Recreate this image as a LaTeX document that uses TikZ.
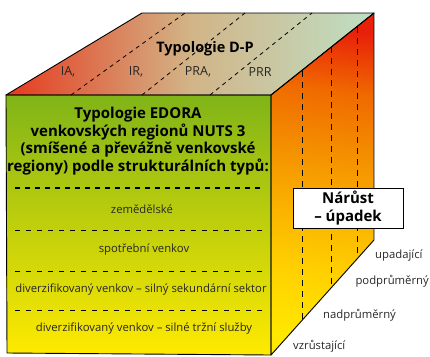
\documentclass[tikz,border=0pt]{standalone}
\usepackage{fontspec}
\setmainfont{Open Sans}
\definecolor{topred}{HTML}{E63A1E}
\definecolor{toptan}{HTML}{D2B487}
\definecolor{topgreen}{HTML}{BEDFC4}
\definecolor{frgreen}{HTML}{80B418}
\definecolor{fryellow}{HTML}{FFEA00}
\definecolor{rredA}{HTML}{E8200A}
\definecolor{rorange}{HTML}{F06A00}
\definecolor{rorangeB}{HTML}{F49000}
\definecolor{ramber}{HTML}{FAB000}
\definecolor{ryellowB}{HTML}{FFD000}
\definecolor{ryellow}{HTML}{FFE800}
\pgfdeclareverticalshading{rightface}{100bp}{color(0bp)=(ryellow); color(25bp)=(ryellow); color(36bp)=(ryellowB); color(46bp)=(ramber); color(55bp)=(rorangeB); color(65bp)=(rorange); color(75bp)=(rredA); color(100bp)=(rredA)}
\tikzset{
  edge/.style={draw=black, line width=0.9pt, line join=round},
  topdash/.style={draw=black, line width=0.8pt, dash pattern=on 4pt off 4pt},
  rdash/.style={draw=black, line width=0.9pt, dash pattern=on 6pt off 5pt},
  fdash/.style={draw=black, line width=0.7pt, dash pattern=on 5pt off 6pt},
  fdashthick/.style={draw=black, line width=1.4pt, dash pattern=on 5pt off 5pt},
  lbl/.style={font=\fontsize{11.3}{13}\selectfont, inner sep=0pt, text=black!85},
  toplbl/.style={font=\fontsize{12.5}{14}\selectfont, inner sep=0pt, text=black!85},
  bold/.style={font=\fontsize{15}{17.7}\selectfont\bfseries, align=center, inner sep=0pt},
}
\begin{document}
\begin{tikzpicture}[x=1pt,y=-1pt]
\useasboundingbox (0,0) rectangle (430,356);
% corners
\coordinate (ftl) at (6,95);
\coordinate (ftr) at (271,95);
\coordinate (fbl) at (7,353);
\coordinate (fbr) at (271,355);
\coordinate (btl) at (142,13);
\coordinate (btr) at (374,13);
\coordinate (bbr) at (374,240);
% top face
\begin{scope}
\clip (ftl) -- (btl) -- (btr) -- (ftr) -- cycle;
\shade[left color=topred, right color=topgreen, middle color=toptan] (6,13) rectangle (374,95);
\end{scope}
% right face
\begin{scope}
\clip (ftr) -- (btr) -- (bbr) -- (fbr) -- cycle;
\shade[shading=rightface, shading angle=-8] (271,13) rectangle (374,355);
\end{scope}
% front face
\shade[top color=frgreen, bottom color=fryellow] (ftl) -- (ftr) -- (fbr) -- (fbl) -- cycle;
% top dashed
\coordinate (t1a) at (71,95); \coordinate (t1b) at (185,13);
\coordinate (t2a) at (142,95); \coordinate (t2b) at (245,13);
\coordinate (t3a) at (210,95); \coordinate (t3b) at (312,13);
\draw[topdash] (t1a) -- (t1b);
\draw[topdash] (t2a) -- (t2b);
\draw[topdash] (t3a) -- (t3b);
% right dashed
\coordinate (r1a) at (302,71); \coordinate (r1b) at (302,321);
\coordinate (r2a) at (331,47); \coordinate (r2b) at (331,288);
\coordinate (r3a) at (357,27); \coordinate (r3b) at (357,259);
\draw[rdash] (r1a) -- (r1b);
\draw[rdash] (r2a) -- (r2b);
\draw[rdash] (r3a) -- (r3b);
% edges
\draw[edge] (ftl) -- (btl) -- (btr) -- (ftr) -- cycle;
\draw[edge] (ftr) -- (btr) -- (bbr) -- (fbr) -- cycle;
\draw[edge] (ftl) -- (ftr) -- (fbr) -- (fbl) -- cycle;
% top texts
\node[bold, font=\fontsize{14.5}{17}\selectfont\bfseries] (dp) at (205,49) {Typologie D-P};
\node[toplbl] (ia) at (68,72) {IA,};
\node[toplbl] (ir) at (136,72) {IR,};
\node[toplbl] (pra) at (198,72) {PRA,};
\node[toplbl] (prr) at (260,72) {PRR};
% front texts
\node[bold] (edora) at (138,141) {Typologie EDORA\\venkovských regionů NUTS 3\\(smíšené a převážně venkovské\\regiony) podle strukturálních typů:};
\coordinate (d0a) at (15,188); \coordinate (d0b) at (263,188);
\draw[fdashthick] (d0a) -- (d0b);
\node[lbl] (zem) at (142,209) {zemědělské};
\coordinate (d1a) at (15,230); \coordinate (d1b) at (263,230);
\draw[fdash] (d1a) -- (d1b);
\node[lbl] (spo) at (144,250) {spotřební venkov};
\coordinate (d2a) at (15,271); \coordinate (d2b) at (263,271);
\draw[fdash] (d2a) -- (d2b);
\node[lbl] (dvs) at (141,290) {diverzifikovaný venkov – silný sekundární sektor};
\coordinate (d3a) at (15,310); \coordinate (d3b) at (263,310);
\draw[fdash] (d3a) -- (d3b);
\node[lbl] (dvt) at (144,329) {diverzifikovaný venkov – silné tržní služby};
% box
\node[bold, draw=black, line width=0.8pt, fill=white, minimum width=110pt, minimum height=40pt] (nar) at (348,208) {Nárůst\\– úpadek};
% right labels
\node[lbl, anchor=west] (upa) at (375,256) {upadající};
\node[lbl, anchor=east] (pod) at (429,281) {podprůměrný};
\node[lbl, anchor=west] (nad) at (323,315) {nadprůměrný};
\node[lbl, anchor=west] (vzr) at (293,346) {vzrůstající};
\end{tikzpicture}
\end{document}
